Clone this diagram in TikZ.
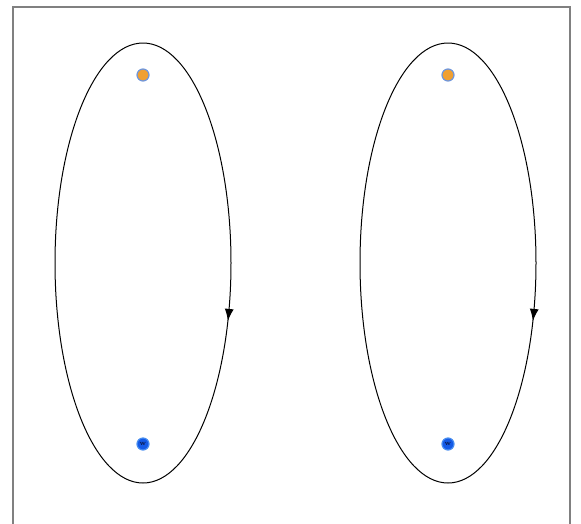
\documentclass[tikz,border=0pt]{standalone}
\usetikzlibrary{arrows.meta,decorations.markings}
\begin{document}
\begin{tikzpicture}[x=1pt,y=1pt,
  loop/.style={draw=black,line width=1pt,postaction={decorate},
    decoration={markings,mark=at position 58pt with {\arrow{Latex[length=12pt,width=9pt]}}}},
  topdot/.style={circle,draw={rgb,255:red,110;green,150;blue,220},line width=1.2pt,fill={rgb,255:red,240;green,160;blue,50},minimum size=12pt,inner sep=0pt},
  botdot/.style={circle,draw={rgb,255:red,70;green,140;blue,240},line width=1.2pt,fill={rgb,255:red,20;green,90;blue,230},minimum size=12pt,inner sep=0pt,font=\fontsize{7}{7}\selectfont\bfseries,text={rgb,255:red,10;green,20;blue,60}}]
\useasboundingbox (0,0) rectangle (581,-523);
\fill[white] (0,0) rectangle (581,-523);
\draw[gray,line width=1.2pt] (13,-530) -- (13,-7) -- (570,-7) -- (570,-530);
% left loop
\coordinate (cl) at (143,-263);
\draw[loop] (231,-263) arc[start angle=0,end angle=-360,x radius=88,y radius=220];
\node[topdot] (tl) at (143,-75) {};
\node[botdot] (bl) at (143,-444) {w};
% right loop
\coordinate (cr) at (448,-263);
\draw[loop] (536,-263) arc[start angle=0,end angle=-360,x radius=88,y radius=220];
\node[topdot] (tr) at (448,-75) {};
\node[botdot] (br) at (448,-444) {w};
\end{tikzpicture}
\end{document}
